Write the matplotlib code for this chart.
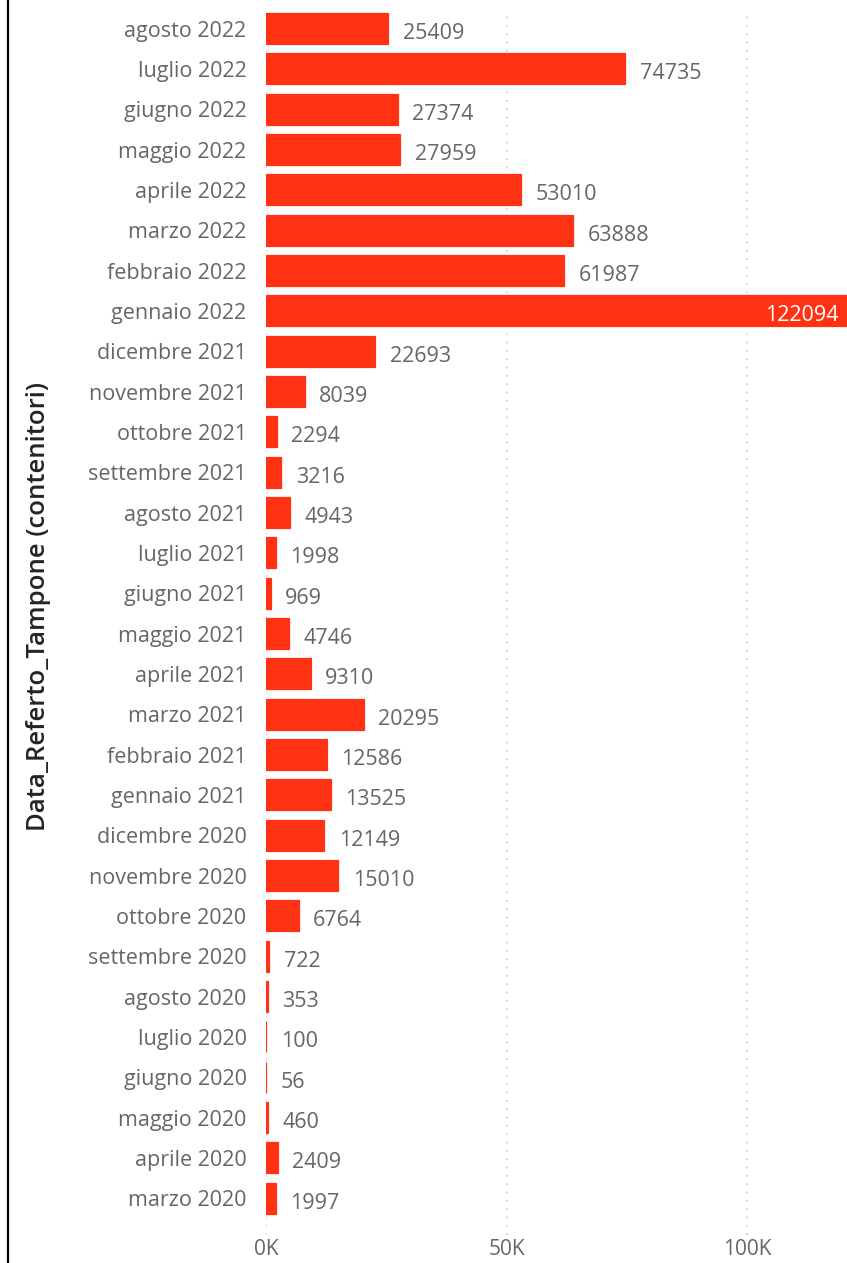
"""Tamponi per mese: barre orizzontali stile Power BI."""

import matplotlib.pyplot as plt
from matplotlib.lines import Line2D
from matplotlib.ticker import FuncFormatter

MONTHS = [
    "agosto 2022", "luglio 2022", "giugno 2022", "maggio 2022", "aprile 2022",
    "marzo 2022", "febbraio 2022", "gennaio 2022", "dicembre 2021",
    "novembre 2021", "ottobre 2021", "settembre 2021", "agosto 2021",
    "luglio 2021", "giugno 2021", "maggio 2021", "aprile 2021", "marzo 2021",
    "febbraio 2021", "gennaio 2021", "dicembre 2020", "novembre 2020",
    "ottobre 2020", "settembre 2020", "agosto 2020", "luglio 2020",
    "giugno 2020", "maggio 2020", "aprile 2020", "marzo 2020",
]
COUNTS = [
    25409, 74735, 27374, 27959, 53010, 63888, 61987, 122094, 22693, 8039,
    2294, 3216, 4943, 1998, 969, 4746, 9310, 20295, 12586, 13525, 12149,
    15010, 6764, 722, 353, 100, 56, 460, 2409, 1997,
]
X_TICKS = [0, 50000, 100000]

BAR_COLOR = "#FF3314"
TEXT_GRAY = "#666666"
FONT = ["Open Sans", "DejaVu Sans"]

W, H = 847, 1263
plt.rcParams["font.family"] = FONT

fig = plt.figure(figsize=(W / 100, H / 100), dpi=100)
left, right = 266 / W, 1.0
top, bottom = 1 - 10 / H, 1 - 1235 / H
ax = fig.add_axes([left, bottom, right - left, top - bottom])

n = len(MONTHS)
pos = list(range(n))
ax.barh(pos, COUNTS, height=0.77, color=BAR_COLOR, edgecolor=BAR_COLOR,
        linewidth=0.9, zorder=2)

xmax = (W - 266) / 4.81 * 1000
ax.set_xlim(0, xmax)
ax.set_ylim(n - 1 + 0.91, -0.46)

for y, v in zip(pos, COUNTS):
    if v > xmax * 0.9:
        ax.text(xmax - 1800, y + 0.12, str(v), color="white", fontsize=15.5,
                ha="right", va="center", zorder=3)
    else:
        ax.text(v + 3000, y + 0.12, str(v), color=TEXT_GRAY, fontsize=15.5,
                ha="left", va="center", zorder=3)

ax.set_yticks(pos)
ax.set_yticklabels(MONTHS, fontsize=15.5, color=TEXT_GRAY)
ax.set_xticks(X_TICKS)
ax.xaxis.set_major_formatter(FuncFormatter(lambda v, _: f"{int(v / 1000)}K"))
ax.tick_params(axis="x", labelsize=15, labelcolor=TEXT_GRAY, length=0, pad=3)
ax.tick_params(axis="y", length=0, pad=14)

ax.grid(axis="x", color="#C8C8C8", linestyle=(0, (1, 4)), linewidth=1.2, zorder=0)
for side in ax.spines.values():
    side.set_visible(False)

ax.set_ylabel("Data_Referto_Tampone (contenitori)", fontsize=18.5,
              fontweight="semibold", color="#252423")
ax.yaxis.set_label_coords(-0.37, 0.513)

fig.add_artist(Line2D([8 / W, 8 / W], [0, 1], color="black", linewidth=1.6))

fig.savefig("out.png", dpi=100)
